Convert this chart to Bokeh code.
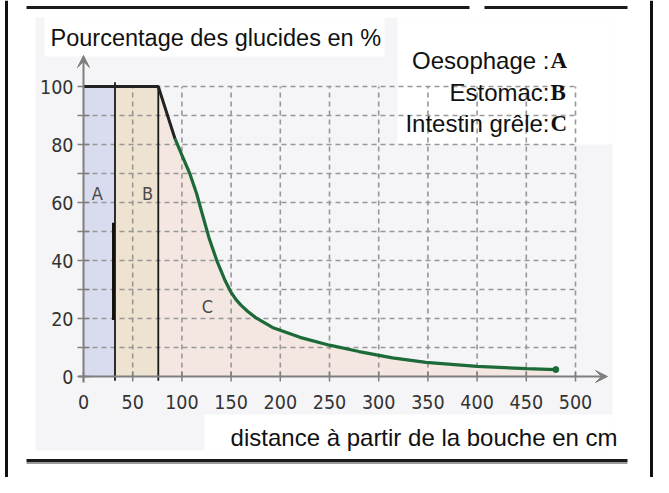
from bokeh.plotting import figure
from bokeh.models import Range1d, Arrow, VeeHead
from bokeh.core.properties import value
from bokeh.embed import file_html
from bokeh.resources import INLINE

# ---------------- data ----------------
dist = [0, 76, 93, 100, 108, 115, 122, 128, 136, 144, 150, 155, 160, 167, 175, 192, 220, 250, 280, 314, 348, 400, 450, 480]
gluc = [100, 100, 82, 76.3, 70, 63, 54.5, 47.3, 39.5, 33, 29, 26.5, 24.6, 22.4, 20.3, 16.9, 13.5, 10.8, 8.6, 6.4, 4.9, 3.5, 2.7, 2.4]
x_ticks = [0, 50, 100, 150, 200, 250, 300, 350, 400, 450, 500]
y_ticks = [0, 20, 40, 60, 80, 100]
y_minor = [0, 10, 20, 30, 40, 50, 60, 70, 80, 90, 100]
zones = ["A", "B", "C"]
zone_start = [0, 32, 76]
zone_end = [32, 76, 480]
legend_names = ["Oesophage :", "Estomac:", "Intestin grêle:"]
legend_letters = ["A", "B", "C"]
title_text = "Pourcentage des glucides en %"
xlabel_text = "distance à partir de la bouche en cm"

# ---------------- geometry helpers (screen px -> data) ----------------
X0, KX = 91.0, 0.984
Y0, KY = 384.0, 2.9
W, H = 653, 477
def sx(px):
    return (px - X0) / KX
def sy(py):
    return (Y0 - py) / KY

p = figure(width=W, height=H, output_backend="svg", toolbar_location=None,
           x_range=Range1d(sx(8), sx(8 + W)), y_range=Range1d(sy(8 + H), sy(8)),
           min_border=0, outline_line_color=None)
p.axis.visible = False
p.grid.visible = False
p.background_fill_color = "white"
p.border_fill_color = "white"

COND = value("DejaVu Sans Condensed, Liberation Sans, sans-serif")
SANS = value("Liberation Sans")
SERIF = value("Liberation Serif")

# background panels
p.quad(left=[sx(43)], right=[sx(620)], bottom=[sy(458)], top=[sy(25)],
       fill_color="#f5f5f7", line_color=None)
p.quad(left=[sx(52), sx(405), sx(212)], right=[sx(392), sx(620), sx(620)],
       bottom=[sy(64), sy(152), sy(458)], top=[sy(25), sy(25), sy(422)],
       fill_color="white", line_color=None)

# zone fills
p.quad(left=[zone_start[0]], right=[zone_end[0]], bottom=[0], top=[100],
       fill_color="#d9dcef", line_color=None)
p.quad(left=[zone_start[1]], right=[zone_end[1]], bottom=[0], top=[100],
       fill_color="#eee2d0", line_color=None)
cx = [d for d in dist if d >= zone_start[2]]
cy = [g for d, g in zip(dist, gluc) if d >= zone_start[2]]
p.patch(cx + [cx[-1], cx[0]], cy + [0, 0], fill_color="#f4e6df", fill_alpha=0.9, line_color=None)

# dashed grid
p.segment(x0=[0] * len(y_minor[1:]), x1=[500] * len(y_minor[1:]), y0=y_minor[1:], y1=y_minor[1:],
          line_color="#979797", line_width=1.6, line_dash="5 4")
p.segment(x0=x_ticks[1:], x1=x_ticks[1:], y0=[0] * len(x_ticks[1:]), y1=[100] * len(x_ticks[1:]),
          line_color="#979797", line_width=1.6, line_dash="5 4")

# axes
axc = "#7f7f7f"
p.add_layout(Arrow(end=VeeHead(size=12, fill_color=axc, line_color=axc), x_start=0, y_start=sy(390),
                   x_end=0, y_end=sy(63), line_color=axc, line_width=2))
p.add_layout(Arrow(end=VeeHead(size=12, fill_color=axc, line_color=axc), x_start=sx(86), y_start=0,
                   x_end=sx(615), y_end=0, line_color=axc, line_width=2))
p.segment(x0=[sx(85)] * len(y_minor), x1=[sx(97)] * len(y_minor), y0=y_minor, y1=y_minor,
          line_color=axc, line_width=1.5)
p.segment(x0=x_ticks, x1=x_ticks, y0=[sy(389)] * len(x_ticks), y1=[sy(379)] * len(x_ticks),
          line_color=axc, line_width=1.5)

# tick labels
p.text(x=[sx(81)] * len(y_ticks), y=y_ticks, text=[str(v) for v in y_ticks],
       text_font=COND, text_font_size="19.5px", text_color="#333333",
       text_align="right", text_baseline="middle")
p.text(x=x_ticks, y=[sy(409)] * len(x_ticks), text=[str(v) for v in x_ticks],
       text_font=COND, text_font_size="19.5px", text_color="#333333",
       text_align="center", text_baseline="middle")

# zone boundaries
p.segment(x0=[zone_end[0], zone_end[1]], x1=[zone_end[0], zone_end[1]], y0=[-1.5, -1.5], y1=[101.5, 100],
          line_color="#1a1a1a", line_width=1.8)
p.segment(x0=[30.5], x1=[30.5], y0=[19.5], y1=[53], line_color="#111111", line_width=3)

# curve: black part then green part
p.line(dist[:3], gluc[:3], line_color="#222222", line_width=3)
p.line(dist[2:], gluc[2:], line_color="#1d6a39", line_width=3.2)
p.scatter([dist[-1]], [gluc[-1]], size=6, color="#1d6a39")

# zone letters on chart
p.text(x=[14, 65, 126], y=[63, 63, 24], text=zones, text_font=COND, text_font_size="18px",
       text_color="#4a4a4a", text_align="center", text_baseline="middle")

# title and x label
p.text(x=[sx(58)], y=[sy(45)], text=[title_text], text_font=SANS, text_font_size="23.5px",
       text_color="#111111", text_align="left", text_baseline="middle")
p.text(x=[sx(625)], y=[sy(445)], text=[xlabel_text], text_font=SANS, text_font_size="24px",
       text_color="#111111", text_align="right", text_baseline="middle")

# legend
ly = [sy(68), sy(100), sy(131)]
p.text(x=[sx(557)] * 3, y=ly, text=legend_names, text_font=SANS, text_font_size="24px",
       text_color="#111111", text_align="right", text_baseline="middle")
p.text(x=[sx(558)] * 3, y=ly, text=legend_letters, text_font=SERIF, text_font_size="23px",
       text_font_style="bold", text_color="#111111", text_align="left", text_baseline="middle")

# page frame lines
p.segment(x0=[sx(34), sx(492), sx(34)], x1=[sx(477), sx(635), sx(635)],
          y0=[sy(15), sy(15), sy(468)], y1=[sy(15), sy(15), sy(468)],
          line_color="#1a1a1a", line_width=3)
p.segment(x0=[sx(34)], x1=[sx(635)], y0=[sy(470.5)], y1=[sy(470.5)], line_color="#9a9a9a", line_width=2)
p.segment(x0=[sx(14), sx(659)], x1=[sx(14), sx(659)], y0=[sy(8), sy(8)], y1=[sy(486), sy(486)],
          line_color="#111111", line_width=3)

open("out.html", "w").write(file_html(p, INLINE))
